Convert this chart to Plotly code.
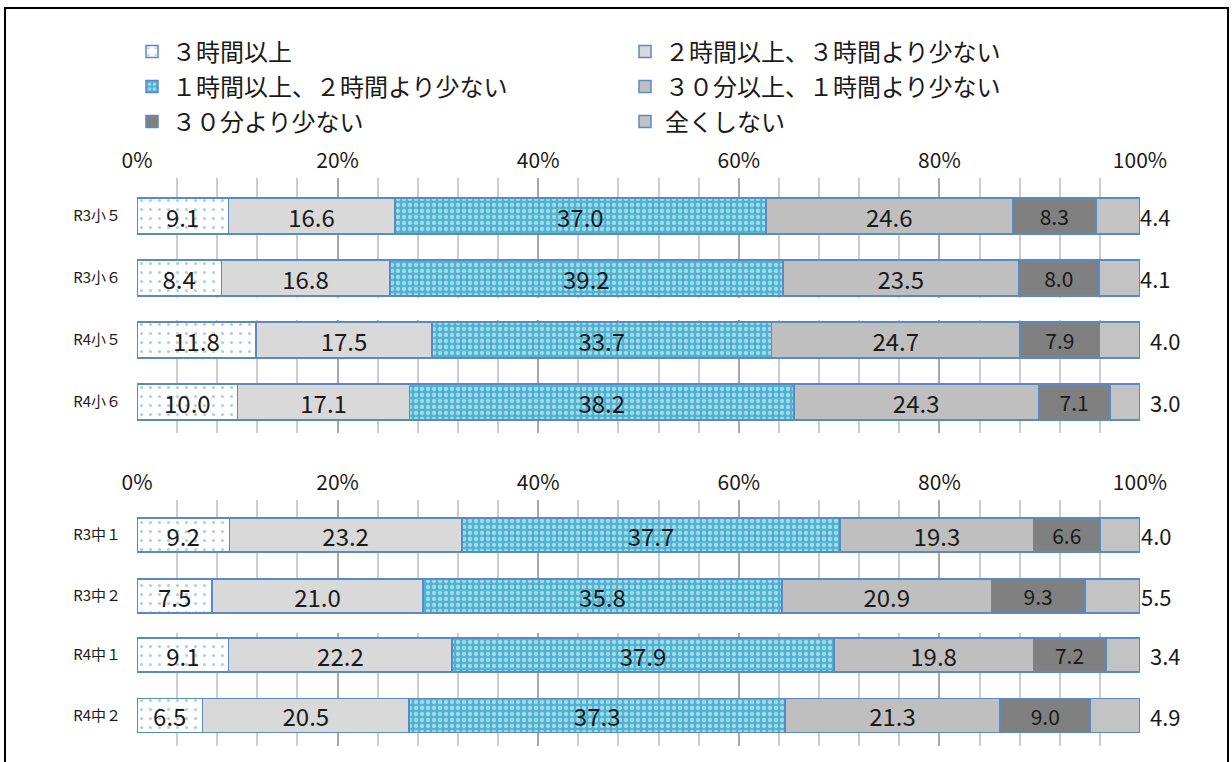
import plotly.graph_objects as go

# Survey: daily study time outside school, by year and grade (percent of pupils)
segments = [
    "３時間以上",
    "２時間以上、３時間より少ない",
    "１時間以上、２時間より少ない",
    "３０分以上、１時間より少ない",
    "３０分より少ない",
    "全くしない",
]

categories = ["R3小５", "R3小６", "R4小５", "R4小６", "R3中１", "R3中２", "R4中１", "R4中２"]

over_3h = [9.1, 8.4, 11.8, 10.0, 9.2, 7.5, 9.1, 6.5]
from_2h_to_3h = [16.6, 16.8, 17.5, 17.1, 23.2, 21.0, 22.2, 20.5]
from_1h_to_2h = [37.0, 39.2, 33.7, 38.2, 37.7, 35.8, 37.9, 37.3]
from_30m_to_1h = [24.6, 23.5, 24.7, 24.3, 19.3, 20.9, 19.8, 21.3]
under_30m = [8.3, 8.0, 7.9, 7.1, 6.6, 9.3, 7.2, 9.0]
not_at_all = [4.4, 4.1, 4.0, 3.0, 4.0, 5.5, 3.4, 4.9]

tick_values = [0, 20, 40, 60, 80, 100]
tick_labels = ["0%", "20%", "40%", "60%", "80%", "100%"]

series = [over_3h, from_2h_to_3h, from_1h_to_2h, from_30m_to_1h, under_30m, not_at_all]

W, H = 1232, 762
FONT = "Noto Sans CJK JP"
OUTLINE = "#5A8AC6"

styles = [
    dict(color="white", pattern=dict(shape=".", fgcolor="#5B9BD5", bgcolor="white", size=9, solidity=0.1)),
    dict(color="#D9D9D9"),
    dict(color="#4DB3D1", pattern=dict(shape=".", fgcolor="white", bgcolor="#4DB3D1", size=6, solidity=0.4)),
    dict(color="#BFBFBF"),
    dict(color="#808080"),
    dict(color="#C3C3C3"),
]
label_sizes = [24, 24, 24, 24, 21, 21]
legend_rows = ["legend", "legend", "legend2", "legend2", "legend3", "legend3"]

# four small panels of two bars each: (top px, bottom px, centre of first bar, bar pitch, bar px)
panels = [
    (178, 298, 216, 62, 36, True),
    (320, 433, 340, 62, 36, False),
    (500, 614, 535, 61, 34, True),
    (633, 746, 655, 60.5, 34, False),
]
outside_shift = [-2, 8, -1, 8]

fig = go.Figure()
layout = dict(
    width=W, height=H,
    margin=dict(l=0, r=0, t=0, b=0, autoexpand=False),
    paper_bgcolor="white", plot_bgcolor="white",
    barmode="stack", barnorm="percent",
    font=dict(family=FONT, color="#1a1a1a"),
    annotations=[], shapes=[],
)

x0, x1 = 137 / W, 1140 / W
for p, (top, bottom, c0, pitch, bar_px, labelled) in enumerate(panels):
    sfx = "" if p == 0 else str(p + 1)
    idx = [2 * p, 2 * p + 1]
    for s, name in enumerate(segments):
        vals = [series[s][i] for i in idx]
        fig.add_trace(go.Bar(
            orientation="h",
            x=vals, y=[0, 1],
            name=name,
            width=bar_px / pitch,
            marker=dict(**styles[s], line=dict(color=OUTLINE, width=1.5)),
            text=[f"{v:.1f}" for v in vals] if s < 5 else None,
            textposition="inside", insidetextanchor="middle", textangle=0,
            constraintext="none",
            textfont=dict(size=label_sizes[s], color="#1a1a1a", family=FONT),
            showlegend=(p == 0), legend=legend_rows[s],
            xaxis="x" + sfx, yaxis="y" + sfx,
            hoverinfo="skip",
        ))
        if s == 5:
            for k, v in zip([0, 1], vals):
                layout["annotations"].append(dict(
                    x=100, y=k, xref="x" + sfx, yref="y" + sfx,
                    text=f"{v:.1f}", showarrow=False, xanchor="left",
                    xshift=outside_shift[p], font=dict(size=22, color="#1a1a1a", family=FONT),
                ))
    y_top = -(c0 - top) / pitch
    y_bot = 1 + (bottom - (c0 + pitch)) / pitch
    layout["xaxis" + sfx] = dict(
        domain=[x0, x1], anchor="y" + sfx, range=[0, 100], automargin=False,
        side="top", showticklabels=labelled,
        tickvals=tick_values, ticktext=tick_labels,
        tickfont=dict(size=21, color="#1a1a1a"), ticks="", ticklabelstandoff=5,
        showgrid=True, gridcolor="#A8A8A8", gridwidth=2,
        minor=dict(dtick=4, showgrid=True, gridcolor="#CDCDCD", gridwidth=2),
        zeroline=False, showline=False, fixedrange=True,
    )
    layout["yaxis" + sfx] = dict(
        domain=[1 - bottom / H, 1 - top / H], anchor="x" + sfx, automargin=False,
        range=[y_bot, y_top], tickvals=[0, 1], ticktext=[categories[i] for i in idx],
        tickfont=dict(size=15, color="#1a1a1a"), ticks="", ticklabelstandoff=15,
        showgrid=False, zeroline=False, showline=False, fixedrange=True,
    )

# legend: three rows of two entries
for name, yc in zip(["legend", "legend2", "legend3"], [52, 87, 122]):
    layout[name] = dict(
        orientation="h", x=132 / W, xanchor="left", y=1 - yc / H, yanchor="middle",
        entrywidth=448, entrywidthmode="pixels", bgcolor="rgba(0,0,0,0)",
        font=dict(size=24, color="#1a1a1a", family=FONT), traceorder="normal",
    )

# outer frame
layout["shapes"].append(dict(
    type="rect", xref="paper", yref="paper",
    x0=5 / W, x1=1228 / W, y0=1 - 8 / H, y1=-0.1,
    line=dict(color="black", width=2), fillcolor="rgba(0,0,0,0)",
))

fig.update_layout(**layout)
fig.write_html("out.html")
